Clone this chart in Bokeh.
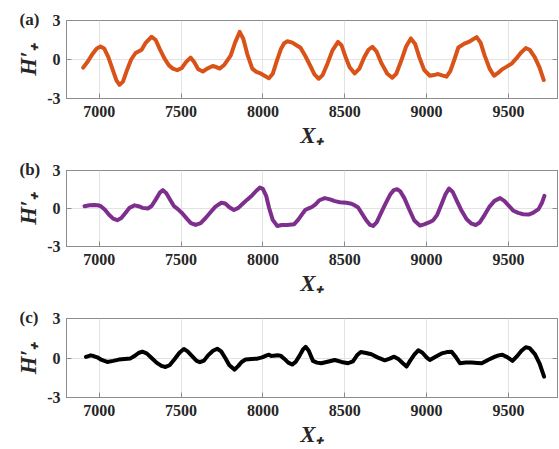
from bokeh.plotting import figure
from bokeh.layouts import column
from bokeh.models import FixedTicker, Range1d, Title, LinearAxis
from bokeh.embed import file_html
from bokeh.resources import INLINE

x_ticks = [7000, 7500, 8000, 8500, 9000, 9500]
y_ticks = [-3, 0, 3]
y_tick_labels = {-3: "-3", 0: "0", 3: "3"}
panel_tags = ["(a)", "(b)", "(c)"]

xa = [6902, 6930, 6960, 6985, 7008, 7030, 7055, 7080, 7105, 7124, 7145, 7170, 7195, 7222, 7259, 7285,
      7320, 7345, 7370, 7400, 7426, 7450, 7477, 7505, 7530, 7558, 7580, 7605, 7633, 7660, 7693, 7715,
      7737, 7765, 7803, 7830, 7858, 7880, 7905, 7935, 7960, 7986, 8010, 8037, 8060, 8085, 8110, 8130,
      8150, 8180, 8205, 8230, 8260, 8290, 8315, 8341, 8365, 8395, 8425, 8459, 8480, 8505, 8530, 8561,
      8590, 8620, 8645, 8669, 8695, 8725, 8760, 8790, 8815, 8845, 8875, 8904, 8930, 8955, 8985, 9020,
      9045, 9071, 9095, 9122, 9145, 9170, 9194, 9231, 9265, 9306, 9330, 9355, 9385, 9412, 9435, 9459,
      9490, 9520, 9550, 9575, 9606, 9630, 9660, 9690, 9716]
ya = [-0.63, -0.15, 0.45, 0.85, 1.0, 0.85, 0.2, -0.7, -1.6, -1.95, -1.7, -0.8, 0.0, 0.5, 0.75, 1.3,
      1.75, 1.5, 0.8, 0.05, -0.45, -0.7, -0.82, -0.65, -0.2, 0.15, -0.2, -0.75, -0.92, -0.7, -0.5, -0.58,
      -0.7, -0.4, 0.3, 1.3, 2.12, 1.6, 0.4, -0.7, -0.95, -1.07, -1.25, -1.45, -1.1, -0.1, 0.8, 1.25,
      1.4, 1.3, 1.1, 0.9, 0.25, -0.5, -1.15, -1.48, -1.2, -0.3, 0.7, 1.35, 1.1, 0.2, -0.6, -1.07,
      -0.7, 0.2, 0.75, 0.97, 0.6, -0.3, -1.1, -1.4, -1.1, -0.1, 1.0, 1.62, 1.2, 0.2, -0.8, -1.25,
      -1.2, -1.12, -1.22, -1.32, -0.9, 0.0, 0.92, 1.22, 1.4, 1.72, 1.3, 0.3, -0.7, -1.25, -1.05, -0.78,
      -0.55, -0.32, 0.1, 0.5, 0.88, 0.75, 0.2, -0.6, -1.58]

xb = [6910, 6940, 6967, 6990, 7008, 7035, 7060, 7085, 7110, 7135, 7160, 7185, 7216, 7240, 7265, 7297,
      7320, 7345, 7370, 7389, 7410, 7435, 7456, 7480, 7507, 7535, 7560, 7589, 7620, 7650, 7680, 7710,
      7746, 7770, 7795, 7823, 7850, 7875, 7904, 7935, 7960, 7982, 8000, 8020, 8037, 8060, 8088, 8115,
      8149, 8190, 8215, 8240, 8260, 8287, 8300, 8320, 8345, 8378, 8410, 8440, 8470, 8510, 8541, 8560,
      8582, 8605, 8630, 8655, 8673, 8695, 8720, 8750, 8780, 8800, 8820, 8840, 8865, 8895, 8925, 8959,
      8985, 9015, 9041, 9065, 9090, 9115, 9137, 9160, 9185, 9215, 9245, 9275, 9300, 9325, 9355, 9385,
      9415, 9449, 9475, 9500, 9531, 9560, 9590, 9623, 9650, 9684, 9705, 9720]
yb = [0.18, 0.25, 0.28, 0.26, 0.2, -0.1, -0.5, -0.8, -0.92, -0.75, -0.35, 0.05, 0.25, 0.18, 0.05, 0.0,
      0.2, 0.7, 1.25, 1.45, 1.2, 0.65, 0.2, -0.05, -0.38, -0.8, -1.15, -1.3, -1.15, -0.75, -0.3, 0.15,
      0.45, 0.4, 0.1, -0.12, 0.05, 0.35, 0.7, 1.05, 1.4, 1.65, 1.55, 1.0, 0.08, -0.9, -1.38, -1.3,
      -1.3, -1.25, -0.9, -0.45, -0.1, 0.05, 0.12, 0.3, 0.65, 0.82, 0.72, 0.58, 0.5, 0.45, 0.38, 0.25,
      0.08, -0.4, -0.9, -1.3, -1.38, -1.1, -0.4, 0.4, 1.15, 1.45, 1.52, 1.35, 0.8, -0.1, -0.95, -1.35,
      -1.25, -1.1, -0.92, -0.5, 0.3, 1.1, 1.58, 1.3, 0.6, -0.2, -0.85, -1.2, -1.3, -1.1, -0.5, 0.15,
      0.6, 0.82, 0.6, 0.25, -0.18, -0.35, -0.45, -0.48, -0.35, -0.05, 0.45, 1.0]

xc = [6919, 6935, 6947, 6965, 6988, 7015, 7049, 7085, 7120, 7155, 7191, 7215, 7240, 7263, 7290, 7320,
      7350, 7380, 7405, 7430, 7460, 7490, 7517, 7540, 7570, 7595, 7615, 7640, 7665, 7695, 7721, 7745,
      7770, 7795, 7827, 7850, 7870, 7894, 7930, 7966, 7995, 8020, 8037, 8052, 8067, 8090, 8108, 8130,
      8155, 8179, 8200, 8225, 8245, 8261, 8280, 8306, 8330, 8357, 8395, 8439, 8480, 8520, 8550, 8575,
      8598, 8630, 8663, 8700, 8745, 8775, 8802, 8830, 8855, 8878, 8900, 8925, 8949, 8975, 9000, 9020,
      9055, 9092, 9125, 9153, 9180, 9204, 9240, 9276, 9310, 9337, 9375, 9418, 9440, 9463, 9495, 9525,
      9550, 9580, 9606, 9630, 9663, 9690, 9718]
yc = [0.08, 0.15, 0.2, 0.15, 0.05, -0.15, -0.3, -0.22, -0.12, -0.07, -0.03, 0.15, 0.38, 0.48, 0.35, 0.0,
      -0.35, -0.6, -0.68, -0.55, -0.1, 0.4, 0.68, 0.5, 0.1, -0.22, -0.32, -0.2, 0.2, 0.55, 0.7, 0.5,
      0.0, -0.55, -0.88, -0.6, -0.3, -0.12, -0.07, -0.05, 0.05, 0.18, 0.25, 0.15, 0.18, 0.2, 0.18, -0.05,
      -0.35, -0.5, -0.3, 0.2, 0.65, 0.85, 0.55, -0.22, -0.35, -0.4, -0.28, -0.15, -0.3, -0.4, -0.25, 0.2,
      0.45, 0.38, 0.28, 0.05, -0.18, -0.05, 0.1, -0.1, -0.4, -0.65, -0.2, 0.25, 0.58, 0.4, 0.05, -0.15,
      0.1, 0.35, 0.45, 0.48, 0.05, -0.4, -0.35, -0.35, -0.38, -0.4, -0.15, 0.1, 0.2, 0.25, 0.05, -0.22,
      0.1, 0.55, 0.82, 0.75, 0.28, -0.4, -1.42]

SERIF = "Liberation Serif"
AXIS_COL = "#8c8c8c"
TEXT_COL = "#262626"


def style_axis(ax):
    ax.axis_line_color = AXIS_COL
    ax.major_tick_line_color = AXIS_COL
    ax.major_tick_in = 5
    ax.major_tick_out = 0
    ax.minor_tick_line_color = None
    ax.major_label_text_font = SERIF
    ax.major_label_text_font_style = "bold"
    ax.major_label_text_font_size = "16px"
    ax.major_label_text_color = TEXT_COL
    ax.axis_label_text_font = SERIF
    ax.axis_label_text_font_style = "bold italic"
    ax.axis_label_text_font_size = "23px"
    ax.axis_label_text_color = TEXT_COL


def make_panel(xs, ys, color, tag, height, frame_h):
    p = figure(width=559, height=height, output_backend="svg", toolbar_location=None,
               x_range=Range1d(6800, 9800), y_range=Range1d(-3, 3),
               min_border_left=66, min_border_right=2, min_border_top=20,
               min_border_bottom=height - 20 - frame_h)
    p.background_fill_color = "white"
    p.border_fill_color = "white"
    p.outline_line_color = AXIS_COL

    p.title = Title(text=tag, align="left", offset=-47, standoff=-16,
                    text_font=SERIF, text_font_style="bold", text_font_size="17px",
                    text_color=TEXT_COL)

    p.xgrid.ticker = FixedTicker(ticks=x_ticks)
    p.ygrid.ticker = FixedTicker(ticks=y_ticks)
    p.grid.grid_line_color = "#e3e3e3"
    p.grid.grid_line_width = 1

    p.line(xs, ys, line_color=color, line_width=4, line_join="round", line_cap="round")

    p.xaxis.ticker = FixedTicker(ticks=x_ticks)
    p.yaxis.ticker = FixedTicker(ticks=y_ticks)
    p.yaxis.major_label_overrides = y_tick_labels
    style_axis(p.xaxis[0])
    style_axis(p.yaxis[0])
    p.xaxis.major_label_standoff = 7
    p.yaxis.major_label_standoff = 6

    p.xaxis.axis_label = "X\u208a"
    p.yaxis.axis_label = "H\u2032\u208a"
    p.xaxis.axis_label_standoff = 3
    p.yaxis.axis_label_standoff = 3

    right_ax = LinearAxis(ticker=FixedTicker(ticks=y_ticks),
                          major_label_overrides={t: "" for t in y_ticks})
    style_axis(right_ax)
    right_ax.major_label_standoff = 0
    p.add_layout(right_ax, "right")
    return p


pa = make_panel(xa, ya, "#D95319", panel_tags[0], 150, 80)
pb = make_panel(xb, yb, "#7E2F8E", panel_tags[1], 148, 79)
pc = make_panel(xc, yc, "#000000", panel_tags[2], 151, 80)

layout = column(pa, pb, pc, spacing=0)
open("out.html", "w").write(file_html(layout, INLINE))
